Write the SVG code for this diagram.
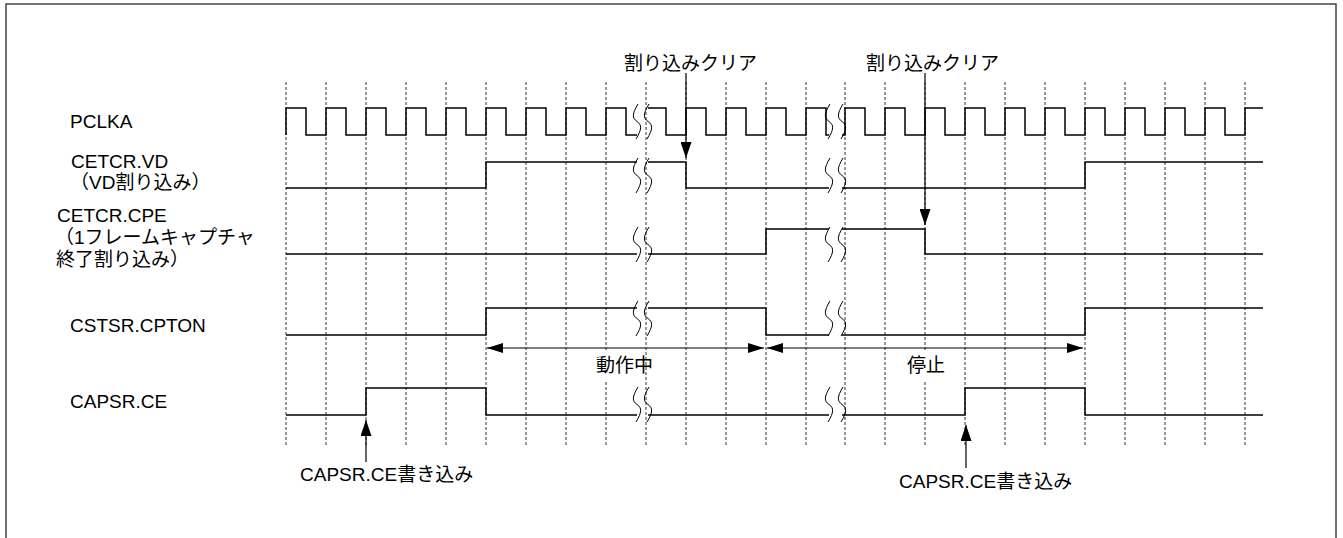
<svg xmlns="http://www.w3.org/2000/svg" width="1343" height="538" viewBox="0 0 1343 538">
<style>
  .lbl { font-family: "Liberation Sans", "Noto Sans CJK JP", sans-serif; font-size: 19px; fill: #000; }
  .sig { fill: none; stroke: #000; stroke-width: 1.5; }
  .brk { fill: none; stroke: #000; stroke-width: 1; }
  .grid { stroke: #333; stroke-width: 1; stroke-dasharray: 3 2; }
  .arr { stroke: #000; stroke-width: 1.2; fill: none; }
</style>
<defs>
  <marker id="ah" viewBox="0 0 16 10" refX="16" refY="5" markerWidth="16" markerHeight="10" markerUnits="userSpaceOnUse" orient="auto-start-reverse">
    <path d="M0,0 L16,5 L0,10 z" fill="#000"/>
  </marker>
  <marker id="ahv" viewBox="0 0 16 11" refX="16" refY="5.5" markerWidth="16" markerHeight="11" markerUnits="userSpaceOnUse" orient="auto">
    <path d="M0,0 L16,5.5 L0,11 z" fill="#000"/>
  </marker>
  <path id="sq" d="M1,0 C-5,10 -5,14 0,17.5 C5,21 5,25 -1,35" />
</defs>
<rect x="0" y="0" width="1343" height="538" fill="#fff"/>
<rect x="6" y="4" width="1330" height="600" fill="none" stroke="#444" stroke-width="1.5"/>

<g id="grid">
  <g class="grid">
    <line x1="286" y1="82" x2="286" y2="447"/>
    <line x1="326" y1="82" x2="326" y2="447"/>
    <line x1="366" y1="82" x2="366" y2="447"/>
    <line x1="406" y1="82" x2="406" y2="447"/>
    <line x1="446" y1="82" x2="446" y2="447"/>
    <line x1="486" y1="82" x2="486" y2="447"/>
    <line x1="526" y1="82" x2="526" y2="447"/>
    <line x1="566" y1="82" x2="566" y2="447"/>
    <line x1="606" y1="82" x2="606" y2="447"/>
    <line x1="646" y1="82" x2="646" y2="447"/>
    <line x1="686" y1="82" x2="686" y2="447"/>
    <line x1="726" y1="82" x2="726" y2="447"/>
    <line x1="766" y1="82" x2="766" y2="447"/>
    <line x1="806" y1="82" x2="806" y2="447"/>
    <line x1="845" y1="82" x2="845" y2="447"/>
    <line x1="885" y1="82" x2="885" y2="447"/>
    <line x1="925" y1="82" x2="925" y2="447"/>
    <line x1="965" y1="82" x2="965" y2="447"/>
    <line x1="1005" y1="82" x2="1005" y2="447"/>
    <line x1="1045" y1="82" x2="1045" y2="447"/>
    <line x1="1085" y1="82" x2="1085" y2="447"/>
    <line x1="1125" y1="82" x2="1125" y2="447"/>
    <line x1="1165" y1="82" x2="1165" y2="447"/>
    <line x1="1205" y1="82" x2="1205" y2="447"/>
    <line x1="1245" y1="82" x2="1245" y2="447"/>
  </g>
</g>

<g id="PCLKA">
  <text class="lbl" x="70" y="128">PCLKA</text>
  <path class="sig" d="M286,135 V108 H306 V135 H326 V108 H346 V135 H366 V108 H386 V135 H406 V108 H426 V135 H446 V108 H466 V135 H486 V108 H506 V135 H526 V108 H546 V135 H566 V108 H586 V135 H606 V108 H626 V135 H637"/>
  <path class="sig" d="M648,108 H666 V135 H686 V108 H706 V135 H726 V108 H746 V135 H766 V108 H786 V135 H806 V108 H826 V135 H829"/>
  <path class="sig" d="M842,135 H845 V108 H865 V135 H885 V108 H905 V135 H925 V108 H945 V135 H965 V108 H985 V135 H1005 V108 H1025 V135 H1045 V108 H1065 V135 H1085 V108 H1105 V135 H1125 V108 H1145 V135 H1165 V108 H1185 V135 H1205 V108 H1225 V135 H1245 V108 H1263"/>
  <use href="#sq" class="brk" x="637" y="104"/>
  <use href="#sq" class="brk" x="648" y="104"/>
  <use href="#sq" class="brk" x="829" y="104"/>
  <use href="#sq" class="brk" x="842" y="104"/>
</g>

<g id="CETCR_VD">
  <text class="lbl" x="71" y="168">CETCR.VD</text>
  <text class="lbl" x="70" y="189">（VD割り込み）</text>
  <path class="sig" d="M286,188 H486 V162 H637"/>
  <path class="sig" d="M648,162 H686 V188 H829"/>
  <path class="sig" d="M842,188 H1085 V162 H1263"/>
  <use href="#sq" class="brk" x="637" y="158"/>
  <use href="#sq" class="brk" x="648" y="158"/>
  <use href="#sq" class="brk" x="829" y="158"/>
  <use href="#sq" class="brk" x="842" y="158"/>
</g>

<g id="CETCR_CPE">
  <text class="lbl" x="57" y="222">CETCR.CPE</text>
  <text class="lbl" x="55" y="244">（1フレームキャプチャ</text>
  <text class="lbl" x="56" y="266">終了割り込み）</text>
  <path class="sig" d="M286,254 H637"/>
  <path class="sig" d="M648,254 H766 V229 H829"/>
  <path class="sig" d="M842,229 H925 V254 H1263"/>
  <use href="#sq" class="brk" x="637" y="227"/>
  <use href="#sq" class="brk" x="648" y="227"/>
  <use href="#sq" class="brk" x="829" y="227"/>
  <use href="#sq" class="brk" x="842" y="227"/>
</g>

<g id="CSTSR_CPTON">
  <text class="lbl" x="70" y="332">CSTSR.CPTON</text>
  <path class="sig" d="M286,335 H486 V308 H637"/>
  <path class="sig" d="M648,308 H766 V335 H829"/>
  <path class="sig" d="M842,335 H1085 V308 H1263"/>
  <use href="#sq" class="brk" x="637" y="301"/>
  <use href="#sq" class="brk" x="648" y="301"/>
  <use href="#sq" class="brk" x="829" y="301"/>
  <use href="#sq" class="brk" x="842" y="301"/>
</g>

<g id="CAPSR_CE">
  <text class="lbl" x="70" y="408">CAPSR.CE</text>
  <path class="sig" d="M286,415 H366 V388 H486 V415 H637"/>
  <path class="sig" d="M648,415 H829"/>
  <path class="sig" d="M842,415 H965 V388 H1085 V415 H1263"/>
  <use href="#sq" class="brk" x="637" y="387"/>
  <use href="#sq" class="brk" x="648" y="387"/>
  <use href="#sq" class="brk" x="829" y="387"/>
  <use href="#sq" class="brk" x="842" y="387"/>
</g>

<g id="connectors">
  <line class="arr" x1="686" y1="73" x2="686" y2="158" marker-end="url(#ahv)"/>
  <line class="arr" x1="925" y1="73" x2="925" y2="225" marker-end="url(#ahv)"/>
  <line class="arr" x1="487" y1="348" x2="764" y2="348" marker-start="url(#ah)" marker-end="url(#ah)"/>
  <line class="arr" x1="767" y1="348" x2="1083" y2="348" marker-start="url(#ah)" marker-end="url(#ah)"/>
  <line class="arr" x1="366" y1="462" x2="366" y2="420" marker-end="url(#ahv)"/>
  <line class="arr" x1="966" y1="468" x2="966" y2="425" marker-end="url(#ahv)"/>
</g>

<g id="label_clear1">
  <text class="lbl" x="624" y="70">割り込みクリア</text>
</g>
<g id="label_clear2">
  <text class="lbl" x="866" y="70">割り込みクリア</text>
</g>
<g id="label_running">
  <rect x="598" y="351" width="16" height="30" fill="#fff"/>
  <text class="lbl" x="596" y="372">動作中</text>
</g>
<g id="label_stop">
  <rect x="916" y="351" width="18" height="30" fill="#fff"/>
  <text class="lbl" x="907" y="372">停止</text>
</g>
<g id="label_write1">
  <text class="lbl" x="300" y="481">CAPSR.CE書き込み</text>
</g>
<g id="label_write2">
  <text class="lbl" x="899" y="488">CAPSR.CE書き込み</text>
</g>
</svg>
